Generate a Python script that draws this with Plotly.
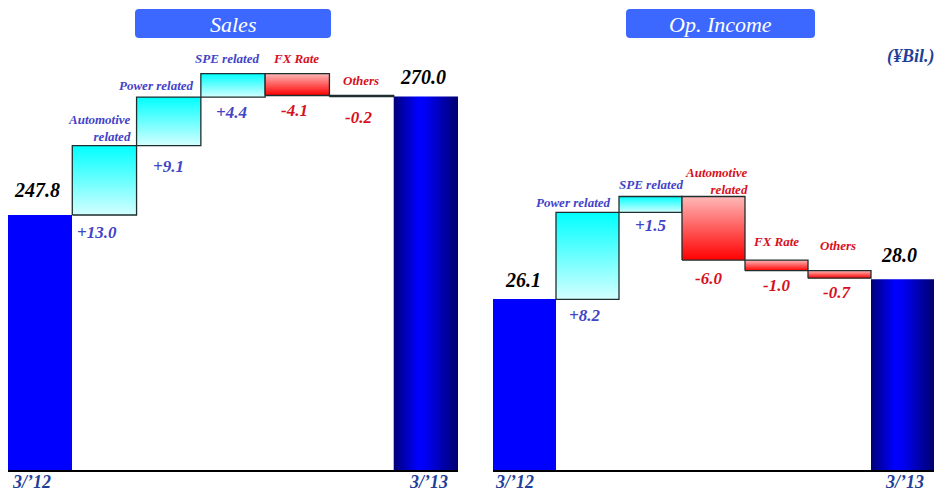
import plotly.graph_objects as go

# ---------------- data ----------------
sales_start = 247.8
sales_end = 270.0
sales_items = ["Automotive<br>related", "Power related", "SPE related", "FX Rate", "Others"]
sales_deltas = [13.0, 9.1, 4.4, -4.1, -0.2]

opinc_start = 26.1
opinc_end = 28.0
opinc_items = ["Power related", "SPE related", "Automotive<br>related", "FX Rate", "Others"]
opinc_deltas = [8.2, 1.5, -6.0, -1.0, -0.7]

period_labels = ["3/\u201912", "3/\u201913"]
panel_titles = ["Sales", "Op. Income"]
unit_label = "(\u00a5Bil.)"

# ---------------- styling ----------------
W, H = 940, 493
FONT = "Liberation Serif, Times New Roman, DejaVu Serif, serif"
BLUE_TXT = "#4343C8"
RED_TXT = "#D8101E"
AXIS_TXT = "#1F3F99"
OUTLINE = "#1E2E2E"

INC_SCALE = [[0, "#D4FFFF"], [1, "#00FFFF"]]
DEC_SCALE = [[0, "#FF0000"], [1, "#FFB8B8"]]
END_SCALE = [[0, "#000078"], [0.38, "#0000FF"], [0.5, "#0000F4"], [1, "#00006E"]]

BOTTOM_PX, TOP_PX = 470, 40


def py(px):
    return 1 - px / H


def bi(size, color):
    return dict(family=FONT, size=size, color=color, weight="bold", style="italic")


panels = [
    dict(start=sales_start, end=sales_end, items=sales_items, deltas=sales_deltas,
         xdom=[8 / W, 458 / W], ymin=200.0, ppu=5.335, title=panel_titles[0],
         box=(135, 331),
         # per-label placement tweaks: (anchor, xshift, px above top)
         names=[("right", -4, 18), ("right", -5, 12), ("right", -4, 15), ("center", -1, 15), ("center", -1, 15)],
         vals=[(-7, 18), (0, 21), (-2, 15), (-3, 15), (-3, 21)],
         tot=[(-3, 25), (-3, 20)],
         per=[(2, -8)]),
    dict(start=opinc_start, end=opinc_end, items=opinc_items, deltas=opinc_deltas,
         xdom=[493 / W, 934 / W], ymin=10.0, ppu=10.6, title=panel_titles[1],
         box=(626, 815),
         names=[("right", -6, 10), ("center", 0, 12), ("right", 5, 16), ("center", -1, 19), ("center", -2, 25)],
         vals=[(-3, 16), (0, 13), (-5, 18), (0, 15), (-3, 14)],
         tot=[(-2, 19), (-4, 24)],
         per=[(0, -8)]),
]

fig = go.Figure()
annotations = []
shapes = []

for i, p in enumerate(panels):
    sfx = "" if i == 0 else str(i + 1)
    xa, ya = "x" + sfx, "y" + sfx
    n = len(p["deltas"])

    def rect(xc, y0, y1, grad, line_w):
        fig.add_trace(go.Scatter(
            x=[xc - 0.5, xc + 0.5, xc + 0.5, xc - 0.5, xc - 0.5],
            y=[y0, y0, y1, y1, y0],
            mode="lines", fill="toself", fillgradient=grad,
            line=dict(color=OUTLINE, width=line_w),
            xaxis=xa, yaxis=ya, hoverinfo="skip", showlegend=False))

    # starting total
    fig.add_trace(go.Bar(x=[0], y=[p["start"] - p["ymin"]], base=p["ymin"], width=1,
                         marker=dict(color="#0000FF", line=dict(width=0)),
                         xaxis=xa, yaxis=ya, hoverinfo="skip", showlegend=False))

    level = p["start"]
    for k, d in enumerate(p["deltas"]):
        xc = k + 1
        lo, hi = min(level, level + d), max(level, level + d)
        grad = dict(type="vertical", colorscale=INC_SCALE if d > 0 else DEC_SCALE)
        rect(xc, lo, hi, grad, 1.3)
        col = BLUE_TXT if d > 0 else RED_TXT
        anc, xs, up = p["names"][k]
        xpos = xc + 0.5 if anc == "right" else xc
        annotations.append(dict(x=xpos, y=hi, xref=xa, yref=ya, text=p["items"][k],
                                xanchor=anc, yanchor="middle", align="right" if anc == "right" else "center",
                                xshift=xs, yshift=up, showarrow=False, font=bi(13, col)))
        vxs, down = p["vals"][k]
        annotations.append(dict(x=xc, y=lo, xref=xa, yref=ya, text=f"{d:+.1f}",
                                xanchor="center", yanchor="middle", xshift=vxs, yshift=-down,
                                showarrow=False, font=bi(17, col)))
        level += d

    # ending total with horizontal shading
    rect(n + 1, p["ymin"], p["end"], dict(type="horizontal", colorscale=END_SCALE), 0)

    for j, (xc, v) in enumerate([(0, p["start"]), (n + 1, p["end"])]):
        txs, up = p["tot"][j]
        annotations.append(dict(x=xc, y=v, xref=xa, yref=ya, text=f"{v:.1f}",
                                xanchor="center", yanchor="middle", xshift=txs, yshift=up,
                                showarrow=False, font=bi(20, "black")))

    # period labels under the first and last bars
    ls, rs = p["per"][0]
    annotations.append(dict(x=-0.5, y=py(482), xref=xa, yref="paper", text=period_labels[0],
                            xanchor="left", yanchor="middle", xshift=ls, showarrow=False,
                            font=bi(18, AXIS_TXT)))
    annotations.append(dict(x=n + 1.5, y=py(482), xref=xa, yref="paper", text=period_labels[1],
                            xanchor="right", yanchor="middle", xshift=rs, showarrow=False,
                            font=bi(18, AXIS_TXT)))

    # rounded title box
    x0, x1 = p["box"]
    y0, y1 = 9, 38
    r = 4
    path = (f"M {(x0 + r) / W},{py(y0)} L {(x1 - r) / W},{py(y0)} "
            f"Q {x1 / W},{py(y0)} {x1 / W},{py(y0 + r)} L {x1 / W},{py(y1 - r)} "
            f"Q {x1 / W},{py(y1)} {(x1 - r) / W},{py(y1)} L {(x0 + r) / W},{py(y1)} "
            f"Q {x0 / W},{py(y1)} {x0 / W},{py(y1 - r)} L {x0 / W},{py(y0 + r)} "
            f"Q {x0 / W},{py(y0)} {(x0 + r) / W},{py(y0)} Z")
    shapes.append(dict(type="path", path=path, xref="paper", yref="paper",
                       fillcolor="#3C68FF", line=dict(width=0), layer="below"))
    annotations.append(dict(x=(x0 + x1) / 2 / W, y=py((y0 + y1) / 2 + 1), xref="paper", yref="paper",
                            text=p["title"], showarrow=False, xanchor="center", yanchor="middle",
                            font=dict(family=FONT, size=22, color="white", style="italic")))

    ydom = [py(BOTTOM_PX), py(TOP_PX)]
    yr = [p["ymin"], p["ymin"] + (BOTTOM_PX - TOP_PX) / p["ppu"]]
    fig.update_layout(**{
        "xaxis" + sfx: dict(domain=p["xdom"], range=[-0.5, n + 1.5], anchor=ya,
                            showgrid=False, zeroline=False, showticklabels=False, ticks="",
                            showline=True, linecolor="black", linewidth=2, fixedrange=True),
        "yaxis" + sfx: dict(domain=ydom, range=yr, anchor=xa, visible=False, fixedrange=True),
    })

annotations.append(dict(x=937 / W, y=py(57), xref="paper", yref="paper", text=unit_label,
                        xanchor="right", yanchor="middle", showarrow=False, font=bi(18, AXIS_TXT)))

fig.update_layout(width=W, height=H, margin=dict(l=0, r=0, t=0, b=0),
                  paper_bgcolor="white", plot_bgcolor="white", bargap=0,
                  annotations=annotations, shapes=shapes, hovermode=False, showlegend=False)

fig.write_html("out.html", config={"displayModeBar": False})
